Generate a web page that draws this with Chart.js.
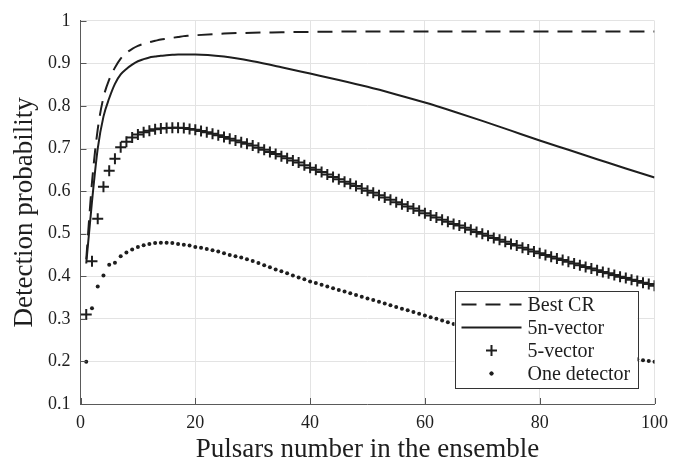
<!DOCTYPE html>
<html>
<head>
<meta charset="utf-8">
<script src="https://cdn.jsdelivr.net/npm/chart.js@4/dist/chart.umd.min.js"></script>
<style>
  body { margin: 0; background: #fff; }
  canvas { display: block; }
</style>
</head>
<body>
<canvas id="chart" width="689" height="462"></canvas>
<script>
// ensemble sizes for the marker series (1..100)
const pulsarCounts = Array.from({ length: 100 }, (_, i) => i + 1);

// Best CR (dashed line)
const bestCrN = [1, 2, 3, 4, 5, 6, 7, 8, 9, 10, 11, 12, 13, 14, 15, 16, 17, 18, 19, 20, 25, 30, 35, 40, 50, 60, 70, 80, 90, 100];
const bestCrP = [0.44, 0.62, 0.745, 0.82, 0.862, 0.89, 0.911, 0.925, 0.934, 0.941, 0.946, 0.950, 0.953, 0.956, 0.958, 0.960, 0.962, 0.964, 0.965, 0.966, 0.970, 0.972, 0.973, 0.974, 0.975, 0.975, 0.975, 0.975, 0.975, 0.975];

// 5n-vector (solid line)
const fiveNN = [1, 2, 3, 4, 5, 6, 7, 8, 9, 10, 11, 12, 13, 14, 15, 16, 17, 18, 19, 20, 25, 30, 35, 40, 45, 50, 55, 60, 65, 70, 75, 80, 85, 90, 95, 100];
const fiveNP = [0.43, 0.575, 0.70, 0.775, 0.818, 0.852, 0.874, 0.887, 0.897, 0.905, 0.910, 0.914, 0.916, 0.918, 0.919, 0.920, 0.921, 0.921, 0.921, 0.921, 0.916, 0.905, 0.891, 0.876, 0.861, 0.845, 0.827, 0.808, 0.787, 0.765, 0.742, 0.719, 0.697, 0.675, 0.653, 0.632];

// 5-vector (+ markers), n = 1..100
const fiveVecP = [
  0.310, 0.435, 0.535, 0.610, 0.648, 0.676, 0.703, 0.716, 0.726, 0.733,
  0.738, 0.742, 0.745, 0.747, 0.748, 0.749, 0.749, 0.748, 0.746, 0.744,
  0.741, 0.738, 0.735, 0.731, 0.727, 0.723, 0.719, 0.715, 0.711, 0.707,
  0.702, 0.697, 0.692, 0.687, 0.682, 0.677, 0.672, 0.667, 0.661, 0.655,
  0.650, 0.645, 0.639, 0.633, 0.628, 0.622, 0.617, 0.612, 0.606, 0.601,
  0.596, 0.590, 0.585, 0.580, 0.574, 0.569, 0.564, 0.559, 0.554, 0.548,
  0.543, 0.538, 0.533, 0.528, 0.523, 0.519, 0.514, 0.509, 0.504, 0.500,
  0.495, 0.490, 0.486, 0.481, 0.476, 0.472, 0.467, 0.463, 0.458, 0.454,
  0.450, 0.446, 0.442, 0.438, 0.434, 0.430, 0.426, 0.422, 0.418, 0.414,
  0.410, 0.407, 0.403, 0.399, 0.396, 0.392, 0.389, 0.385, 0.382, 0.378
];

// One detector (dots), n = 1..100
const oneDetP = [
  0.199, 0.325, 0.376, 0.402, 0.427, 0.432, 0.447, 0.456, 0.463, 0.469,
  0.473, 0.476, 0.478, 0.479, 0.479, 0.478, 0.476, 0.474, 0.472, 0.469,
  0.467, 0.464, 0.461, 0.458, 0.454, 0.450, 0.447, 0.444, 0.440, 0.436,
  0.431, 0.426, 0.421, 0.416, 0.412, 0.407, 0.402, 0.397, 0.393, 0.388,
  0.384, 0.380, 0.376, 0.372, 0.368, 0.364, 0.360, 0.356, 0.352, 0.348,
  0.344, 0.340, 0.336, 0.332, 0.328, 0.324, 0.320, 0.316, 0.312, 0.308,
  0.304, 0.300, 0.296, 0.292, 0.288, 0.285, 0.282, 0.279, 0.276, 0.273,
  0.270, 0.267, 0.264, 0.261, 0.258, 0.255, 0.252, 0.249, 0.247, 0.244,
  0.241, 0.239, 0.236, 0.234, 0.231, 0.229, 0.226, 0.224, 0.222, 0.219,
  0.217, 0.215, 0.213, 0.211, 0.209, 0.207, 0.205, 0.203, 0.201, 0.199
];

const xTicks = [0, 20, 40, 60, 80, 100];
const yTicks = [0.1, 0.2, 0.3, 0.4, 0.5, 0.6, 0.7, 0.8, 0.9, 1];

const ink = '#1e1e1e';
const serif = "'Liberation Serif', 'DejaVu Serif', serif";

const toPoints = (xs, ys) => xs.map((x, i) => ({ x, y: ys[i] }));

// MATLAB-like inward ticks
const innerTicks = {
    id: 'innerTicks',
    afterDraw(chart) {
        const { ctx, chartArea, scales } = chart;
        ctx.save();
        ctx.strokeStyle = '#555';
        ctx.lineWidth = 1;
        ctx.beginPath();
        xTicks.forEach(v => {
            const px = Math.round(scales.x.getPixelForValue(v)) + 0.5;
            ctx.moveTo(px, chartArea.bottom);
            ctx.lineTo(px, chartArea.bottom - 6);
        });
        yTicks.forEach(v => {
            const py = Math.round(scales.y.getPixelForValue(v)) + 0.5;
            ctx.moveTo(chartArea.left, py);
            ctx.lineTo(chartArea.left + 6, py);
        });
        ctx.stroke();
        ctx.restore();
    }
};

// legend box in the lower right corner of the plot
const boxLegend = {
    id: 'boxLegend',
    afterDraw(chart) {
        const { ctx, chartArea } = chart;
        const w = 183, h = 97;
        const left = chartArea.right - 17 - w;
        const top = chartArea.bottom - 16 - h;
        ctx.save();
        ctx.fillStyle = '#fff';
        ctx.fillRect(left, top, w, h);
        ctx.strokeStyle = '#333';
        ctx.lineWidth = 1;
        ctx.strokeRect(Math.round(left) + 0.5, Math.round(top) + 0.5, w, h);
        ctx.font = '20px ' + serif;
        ctx.textBaseline = 'middle';
        chart.data.datasets.forEach((ds, i) => {
            const y = top + 13.5 + i * 23;
            const x0 = left + 7, x1 = left + 67;
            ctx.strokeStyle = ink;
            ctx.fillStyle = ink;
            if (ds.showLine !== false) {
                ctx.lineWidth = 2;
                ctx.setLineDash(ds.borderDash || []);
                ctx.beginPath();
                ctx.moveTo(x0, y);
                ctx.lineTo(x1, y);
                ctx.stroke();
                ctx.setLineDash([]);
            } else {
                Chart.helpers.drawPoint(ctx, {
                    pointStyle: ds.pointStyle,
                    radius: ds.pointRadius,
                    borderWidth: ds.pointBorderWidth
                }, (x0 + x1) / 2, y);
                if (ds.pointStyle === 'circle') ctx.fill();
            }
            ctx.fillStyle = ink;
            ctx.fillText(ds.label, left + 73, y + 1);
        });
        ctx.restore();
    }
};

new Chart(document.getElementById('chart'), {
    type: 'line',
    data: {
        datasets: [
            {
                label: 'Best CR',
                data: toPoints(bestCrN, bestCrP),
                borderColor: ink,
                borderWidth: 2,
                borderDash: [15, 9],
                pointRadius: 0,
                cubicInterpolationMode: 'monotone'
            },
            {
                label: '5n-vector',
                data: toPoints(fiveNN, fiveNP),
                borderColor: ink,
                borderWidth: 2,
                pointRadius: 0,
                cubicInterpolationMode: 'monotone'
            },
            {
                label: '5-vector',
                data: toPoints(pulsarCounts, fiveVecP),
                showLine: false,
                pointStyle: 'cross',
                pointRadius: 5.5,
                pointBorderWidth: 2,
                borderColor: ink,
                backgroundColor: ink
            },
            {
                label: 'One detector',
                data: toPoints(pulsarCounts, oneDetP),
                showLine: false,
                pointStyle: 'circle',
                pointRadius: 2,
                pointBorderWidth: 0,
                borderColor: ink,
                backgroundColor: ink
            }
        ]
    },
    options: {
        responsive: false,
        animation: false,
        layout: { padding: { top: 10.7, right: 34.5, left: 0, bottom: 0 } },
        plugins: {
            legend: { display: false },
            tooltip: { enabled: false }
        },
        scales: {
            x: {
                type: 'linear',
                min: 0,
                max: 100,
                afterFit: s => { s.height = 58; },
                afterBuildTicks: s => { s.ticks = xTicks.map(v => ({ value: v })); },
                grid: { color: '#e3e3e3', drawTicks: false },
                border: { color: '#5a5a5a', width: 1 },
                ticks: { color: ink, padding: 8, font: { family: serif, size: 18 } },
                title: {
                    display: true,
                    text: 'Pulsars number in the ensemble',
                    color: ink,
                    font: { family: serif, size: 27 },
                    padding: { top: 0, bottom: -4 }
                }
            },
            y: {
                min: 0.1,
                max: 1,
                afterFit: s => { s.width = 80.5; },
                afterBuildTicks: s => { s.ticks = yTicks.map(v => ({ value: v })); },
                grid: { color: '#e3e3e3', drawTicks: false },
                border: { color: '#5a5a5a', width: 1 },
                ticks: {
                    color: ink,
                    padding: 10,
                    font: { family: serif, size: 18 },
                    callback: v => String(Number(v.toFixed(1)))
                },
                title: {
                    display: true,
                    text: 'Detection probability',
                    color: ink,
                    font: { family: serif, size: 27 },
                    padding: { top: 9, bottom: 0 }
                }
            }
        }
    },
    plugins: [innerTicks, boxLegend]
});
</script>
</body>
</html>
